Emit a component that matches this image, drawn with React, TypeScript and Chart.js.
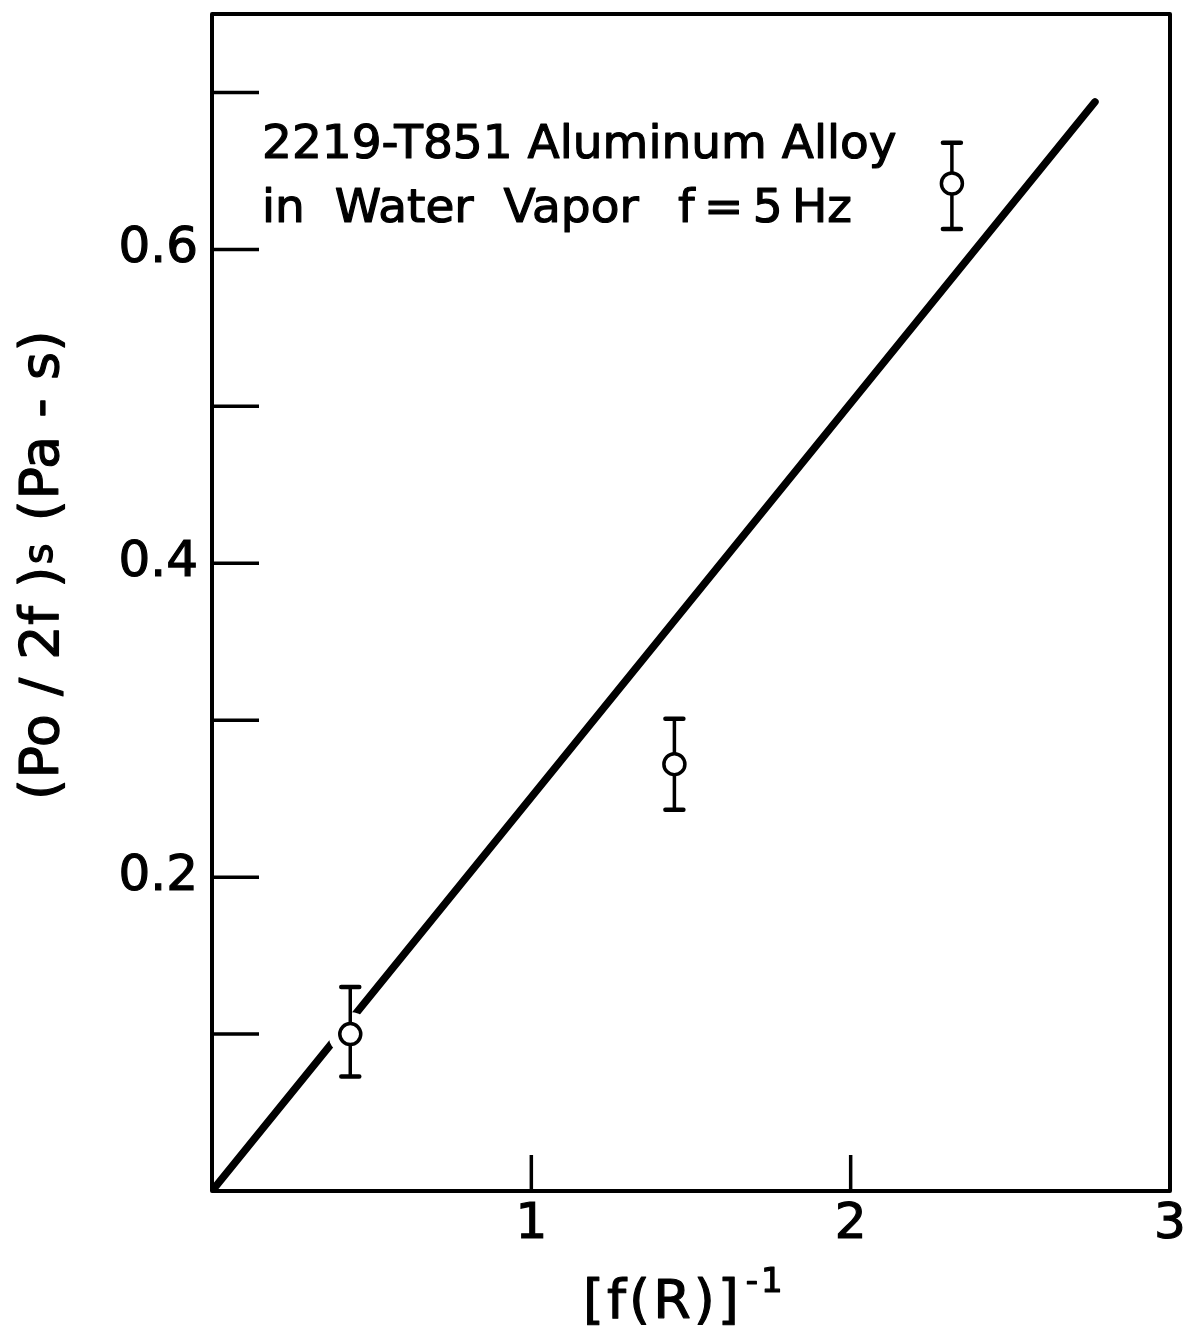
import React, { useEffect, useRef } from "react";
import { Chart, registerables } from "chart.js";

Chart.register(...registerables);

// ---- data ----
const pointX = [0.433, 1.448, 2.317];
const pointY = [0.1, 0.272, 0.642];
const errLow = [0.073, 0.243, 0.613];
const errHigh = [0.13, 0.301, 0.668];
const fitX = [0, 2.765];
const fitY = [0, 0.694];

const xTickValues = [1, 2];
const xTickLabels = ["", "1", "2", "3"];
const yTickValues = [0.1, 0.2, 0.3, 0.4, 0.5, 0.6, 0.7];
const yLabeledTicks = [0.2, 0.4, 0.6];

const titleLines = ["2219-T851 Aluminum Alloy", "in  Water  Vapor  \u2009f\u2009=\u20095\u2009Hz"];
const yTitleParts = ["(Po / 2f )", "s", " (Pa - s)"];
const xTitleMain = "[f(R)]";
const xTitleSup = "-1";

const FONT = '"DejaVu Sans", "Liberation Sans", sans-serif';

function boldText(ctx: any, text: string, x: number, y: number, w = 1.2) {
  ctx.lineWidth = w;
  ctx.lineJoin = "round";
  ctx.strokeText(text, x, y);
  ctx.fillText(text, x, y);
}

const decor = {
  id: "decor",
  afterDatasetDraw(chart: any, args: any) {
    // runs right after the fit line (dataset 1) is drawn, before the markers
    if (args.index !== 1) return;
    const ctx = chart.ctx;
    const xs = chart.scales.x;
    const ys = chart.scales.y;
    ctx.save();
    // white halo around markers (gap in the fit line)
    ctx.fillStyle = "#fff";
    pointX.forEach((v, i) => {
      ctx.beginPath();
      ctx.arc(xs.getPixelForValue(v), ys.getPixelForValue(pointY[i]), 22, 0, Math.PI * 2);
      ctx.fill();
    });
    // error bars
    ctx.strokeStyle = "#000";
    pointX.forEach((v, i) => {
      const px = xs.getPixelForValue(v);
      const y1 = ys.getPixelForValue(errLow[i]);
      const y2 = ys.getPixelForValue(errHigh[i]);
      ctx.lineCap = "butt";
      ctx.lineWidth = 3.5;
      ctx.beginPath();
      ctx.moveTo(px, y1);
      ctx.lineTo(px, y2);
      ctx.stroke();
      ctx.lineWidth = 4.5;
      ctx.lineCap = "round";
      ctx.beginPath();
      ctx.moveTo(px - 9, y1);
      ctx.lineTo(px + 9, y1);
      ctx.moveTo(px - 9, y2);
      ctx.lineTo(px + 9, y2);
      ctx.stroke();
    });
    ctx.restore();
  },
  afterDraw(chart: any) {
    const ctx = chart.ctx;
    const xs = chart.scales.x;
    const ys = chart.scales.y;
    const a = chart.chartArea;
    ctx.save();
    ctx.strokeStyle = "#000";
    ctx.fillStyle = "#000";
    // frame
    ctx.lineWidth = 4;
    ctx.lineJoin = "round";
    ctx.strokeRect(a.left, a.top, a.right - a.left, a.bottom - a.top);
    // inward ticks
    ctx.lineWidth = 3.5;
    ctx.beginPath();
    yTickValues.forEach((v) => {
      const py = ys.getPixelForValue(v);
      ctx.moveTo(a.left, py);
      ctx.lineTo(a.left + 47, py);
    });
    xTickValues.forEach((v) => {
      const px = xs.getPixelForValue(v);
      ctx.moveTo(px, a.bottom);
      ctx.lineTo(px, a.bottom - 36);
    });
    ctx.stroke();

    // title inside plot
    ctx.font = `47px ${FONT}`;
    ctx.textAlign = "left";
    ctx.textBaseline = "alphabetic";
    boldText(ctx, titleLines[0], 262, 158);
    boldText(ctx, titleLines[1], 262, 222);

    // y axis title (rotated)
    ctx.save();
    ctx.rotate(-Math.PI / 2);
    let x = -800;
    const base = 58;
    ctx.font = `54px ${FONT}`;
    (ctx as any).letterSpacing = "0.5px";
    boldText(ctx, yTitleParts[0], x, base);
    x += ctx.measureText(yTitleParts[0]).width + 2;
    ctx.font = `40px ${FONT}`;
    boldText(ctx, yTitleParts[1], x, base - 6);
    x += ctx.measureText(yTitleParts[1]).width + 4;
    ctx.font = `54px ${FONT}`;
    boldText(ctx, yTitleParts[2], x, base);
    (ctx as any).letterSpacing = "0px";
    ctx.restore();

    // x axis title
    ctx.font = `54px ${FONT}`;
    (ctx as any).letterSpacing = "3px";
    boldText(ctx, xTitleMain, 583, 1318);
    const w = ctx.measureText(xTitleMain).width;
    ctx.font = `34px ${FONT}`;
    (ctx as any).letterSpacing = "3px";
    boldText(ctx, xTitleSup, 583 + w + 4, 1292);
    (ctx as any).letterSpacing = "0px";
    ctx.restore();
  },
};

export default function App() {
  const ref = useRef<HTMLCanvasElement | null>(null);
  useEffect(() => {
    if (!ref.current) return;
    const chart = new Chart(ref.current, {
      type: "scatter",
      data: {
        datasets: [
          {
            type: "scatter",
            data: pointX.map((x, i) => ({ x, y: pointY[i] })),
            pointRadius: 10.5,
            pointHoverRadius: 10.5,
            pointBorderWidth: 3.5,
            pointBackgroundColor: "#fff",
            pointBorderColor: "#000",
            order: 0,
          },
          {
            type: "line",
            data: fitX.map((x, i) => ({ x, y: fitY[i] })),
            borderColor: "#000",
            borderWidth: 7.5,
            borderCapStyle: "round",
            pointRadius: 0,
            fill: false,
            tension: 0,
            order: 1,
          },
        ],
      } as any,
      options: {
        animation: false,
        responsive: false,
        events: [],
        layout: { padding: { top: 10, right: 20, left: 0, bottom: 0 } },
        plugins: { legend: { display: false }, tooltip: { enabled: false } },
        scales: {
          x: {
            type: "linear",
            min: 0,
            max: 3,
            grid: { display: false, drawTicks: false },
            border: { display: false },
            ticks: {
              stepSize: 1,
              autoSkip: false,
              maxRotation: 0,
              color: "#000",
              textStrokeColor: "#000",
              textStrokeWidth: 1.2,
              padding: 4,
              font: { family: FONT, size: 50 },
              callback: (v: any) => xTickLabels[Math.round(Number(v))] ?? "",
            },
            afterFit: (s: any) => {
              s.height = 143;
              s.paddingLeft = 0;
              s.paddingRight = 0;
            },
          },
          y: {
            type: "linear",
            min: 0,
            max: 0.75,
            grid: { display: false, drawTicks: false },
            border: { display: false },
            ticks: {
              stepSize: 0.1,
              autoSkip: false,
              color: "#000",
              textStrokeColor: "#000",
              textStrokeWidth: 1.2,
              padding: 14,
              font: { family: FONT, size: 50 },
              callback: (v: any) =>
                yLabeledTicks.some((t) => Math.abs(t - Number(v)) < 1e-6) ? Number(v).toFixed(1) : "",
            },
            afterFit: (s: any) => {
              s.width = 212;
              s.paddingTop = 0;
              s.paddingBottom = 0;
            },
          },
        },
      } as any,
      plugins: [decor],
    });
    return () => chart.destroy();
  }, []);
  return (
    <div style={{ position: "absolute", left: 0, top: 0, width: 1190, height: 1334, background: "#fff" }}>
      <canvas ref={ref} width={1190} height={1334} style={{ display: "block" }} />
    </div>
  );
}
